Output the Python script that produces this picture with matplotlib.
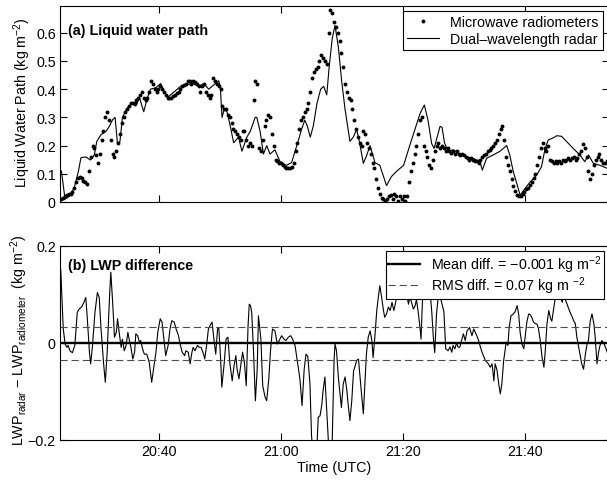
import numpy as np
import matplotlib
matplotlib.use("Agg")
import matplotlib.pyplot as plt

plt.rcParams.update({
    "font.family": ["Liberation Sans", "DejaVu Sans"],
    "font.size": 10.3,
    "mathtext.fontset": "custom",
    "mathtext.rm": "Liberation Sans",
    "mathtext.it": "Liberation Sans:italic",
    "mathtext.bf": "Liberation Sans:bold",
    "axes.linewidth": 0.8,
})

# ---- data (time in minutes after 20:00 UTC, LWP in kg m^-2) ----
radar_t = [24.0, 24.6, 25.3, 26.1, 26.8, 27.2, 28.0, 28.75, 29.4, 29.8,
           30.5, 31.3, 31.85, 32.4, 32.8, 33.2, 33.6, 34.0, 34.7, 35.5,
           36.2, 36.8, 37.5, 38.1, 38.6, 39.46, 40.27, 41.36, 42.45, 43.53,
           44.35, 45.43, 46.52, 47.34, 48.15, 48.97, 49.78, 50.05, 50.33, 50.71,
           51.14, 51.68, 52.23, 53.04, 53.59, 54.4, 54.95, 55.76, 56.03, 56.58,
           57.12, 57.66, 58.2, 59.0, 59.84, 60.92, 61.74, 62.3, 62.8, 63.4,
           63.9, 64.3, 64.8, 65.3, 65.9, 66.5, 67.0, 67.5, 67.9, 68.4,
           68.85, 69.4, 69.94, 70.49, 71.3, 71.85, 72.4, 72.84, 73.5, 74.04,
           74.59, 75.4, 76.2, 77.3, 78.1, 79.0, 80.1, 81.1, 82.0, 82.8,
           83.5, 84.1, 84.7, 85.1, 85.6, 86.07, 86.4, 86.8, 87.4, 88.25,
           89.34, 90.4, 91.5, 92.6, 93.0, 93.7, 94.8, 95.9, 97.0, 97.5,
           98.08, 98.6, 99.2, 100.0, 100.8, 101.9, 102.7, 103.3, 103.8, 104.6,
           105.2, 106.0, 106.8, 107.9, 109.0, 109.8, 110.4, 111.2, 112.3, 113.4,
           113.8]
radar_lwp = [0.11, 0.01, 0.02, 0.05, 0.11, 0.157, 0.16, 0.149, 0.167, 0.215,
             0.239, 0.25, 0.268, 0.292, 0.30, 0.205, 0.215, 0.30, 0.33, 0.35,
             0.34, 0.37, 0.32, 0.37, 0.40, 0.405, 0.42, 0.37, 0.39, 0.41,
             0.415, 0.42, 0.41, 0.42, 0.40, 0.415, 0.43, 0.41, 0.30, 0.33,
             0.32, 0.27, 0.21, 0.23, 0.18, 0.23, 0.25, 0.30, 0.30, 0.25,
             0.17, 0.20, 0.17, 0.185, 0.143, 0.13, 0.14, 0.18, 0.215, 0.26,
             0.29, 0.27, 0.23, 0.27, 0.35, 0.40, 0.41, 0.38, 0.48, 0.58,
             0.626, 0.55, 0.43, 0.33, 0.215, 0.23, 0.257, 0.215, 0.137, 0.165,
             0.20, 0.14, 0.13, 0.058, 0.09, 0.11, 0.13, 0.20, 0.26, 0.314,
             0.344, 0.29, 0.207, 0.19, 0.23, 0.268, 0.265, 0.21, 0.18, 0.185,
             0.167, 0.16, 0.155, 0.143, 0.113, 0.155, 0.167, 0.18, 0.20, 0.167,
             0.107, 0.07, 0.024, 0.048, 0.07, 0.095, 0.125, 0.19, 0.22, 0.227,
             0.235, 0.233, 0.215, 0.19, 0.167, 0.143, 0.167, 0.137, 0.13, 0.12,
             0.12]

# radiometer samples every 0.3 min starting at 20:24
radiometer_start = 24.0
radiometer_step = 0.3
radiometer_lwp = [
    0.01, 0.015, 0.02, 0.025, 0.03, 0.03, 0.035, 0.05, 0.07, 0.085,
    0.09, 0.085, 0.075, 0.07, 0.065, 0.11, 0.16, 0.20, 0.19, 0.165,
    0.14, 0.17, 0.22, 0.25, 0.30, 0.32, 0.29, 0.22, 0.17, 0.16,
    0.18, 0.21, 0.24, 0.28, 0.30, 0.32, 0.33, 0.34, 0.35, 0.35,
    0.35, 0.36, 0.37, 0.38, 0.39, 0.37, 0.36, 0.37, 0.39, 0.43,
    0.42, 0.40, 0.39, 0.40, 0.41, 0.40, 0.39, 0.38, 0.37, 0.37,
    0.37, 0.375, 0.38, 0.385, 0.39, 0.40, 0.41, 0.415, 0.42, 0.43,
    0.43, 0.42, 0.43, 0.425, 0.42, 0.41, 0.39, 0.41, 0.42, 0.39,
    0.38, 0.37, 0.38, 0.44, 0.43, 0.42, 0.41, 0.40, 0.34, 0.33,
    0.33, 0.31, 0.30, 0.28, 0.26, 0.25, 0.24, 0.23, 0.22, 0.25,
    0.25, 0.22, 0.20, 0.21, 0.20, 0.36, 0.43, 0.42, 0.19, 0.18,
    0.22, 0.27, 0.29, 0.31, 0.30, 0.24, 0.20, 0.15, 0.145, 0.14,
    0.14, 0.13, 0.125, 0.12, 0.12, 0.12, 0.125, 0.14, 0.18, 0.21,
    0.26, 0.29, 0.30, 0.32, 0.33, 0.35, 0.39, 0.44, 0.46, 0.47,
    0.48, 0.50, 0.52, 0.51, 0.50, 0.49, 0.60, 0.68, 0.67, 0.64,
    0.62, 0.60, 0.57, 0.53, 0.48, 0.42, 0.39, 0.37, 0.36, 0.33,
    0.29, 0.26, 0.23, 0.21, 0.20, 0.25, 0.24, 0.21, 0.19, 0.17,
    0.14, 0.12, 0.08, 0.05, 0.03, 0.015, 0.01, 0.005, 0.01, 0.02,
    0.025, 0.01, 0.03, 0.02, 0.005, 0.02, 0.01, 0.02, 0.005, 0.02,
    0.07, 0.11, 0.14, 0.17, 0.20, 0.24, 0.29, 0.30, 0.20, 0.18,
    0.16, 0.13, 0.12, 0.15, 0.18, 0.20, 0.21, 0.19, 0.20, 0.19,
    0.18, 0.19, 0.18, 0.175, 0.18, 0.17, 0.18, 0.17, 0.165, 0.17,
    0.165, 0.16, 0.155, 0.15, 0.155, 0.15, 0.145, 0.145, 0.14, 0.15,
    0.16, 0.165, 0.17, 0.18, 0.185, 0.19, 0.20, 0.21, 0.22, 0.24,
    0.26, 0.27, 0.22, 0.16, 0.13, 0.11, 0.08, 0.055, 0.04, 0.025,
    0.02, 0.02, 0.03, 0.035, 0.045, 0.05, 0.06, 0.07, 0.085, 0.10,
    0.13, 0.16, 0.19, 0.21, 0.19, 0.18, 0.20, 0.15, 0.145, 0.14,
    0.145, 0.14, 0.145, 0.14, 0.15, 0.145, 0.15, 0.155, 0.15, 0.155,
    0.16, 0.15, 0.155, 0.17, 0.18, 0.205, 0.19, 0.16, 0.11, 0.08,
    0.10, 0.13, 0.15, 0.16, 0.17, 0.15, 0.14, 0.14, 0.145,
]

diff_t = [23.9, 24.3, 24.6, 24.9, 25.1, 25.4, 25.8, 26.2, 26.6, 26.9,
          27.3, 27.7, 28.0, 28.25, 28.6, 28.8, 29.1, 29.5, 29.9, 30.2,
          30.5, 30.9, 31.2, 31.5, 31.9, 32.1, 32.4, 32.7, 33.0, 33.2,
          33.5, 33.8, 34.0, 34.3, 34.6, 34.9, 35.1, 35.4, 35.7, 36.0,
          36.2, 36.5, 36.8, 37.0, 37.3, 37.6, 38.0, 38.4, 38.8, 39.1,
          39.5, 39.8, 40.2, 40.5, 40.8, 41.1, 41.5, 41.8, 42.1, 42.5,
          42.8, 43.2, 43.4, 43.8, 44.2, 44.4, 44.8, 45.1, 45.4, 45.6,
          45.9, 46.3, 46.6, 46.9, 47.3, 47.5, 47.8, 48.1, 48.5, 48.7,
          49.0, 49.3, 49.6, 49.8, 50.1, 50.3, 50.7, 51.0, 51.3, 51.6,
          52.0, 52.3, 52.6, 52.8, 53.1, 53.4, 53.7, 54.0, 54.3, 54.6,
          54.8, 55.0, 55.2, 55.5, 55.8, 56.1, 56.3, 56.7, 57.0, 57.4,
          57.65, 58.0, 58.3, 58.6, 59.0, 59.4, 59.7, 60.1, 60.5, 60.8,
          61.2, 61.6, 61.9, 62.3, 62.7, 63.1, 63.45, 63.8, 64.1, 64.4,
          64.75, 65.0, 65.3, 65.8, 66.1, 66.4, 66.7, 66.9, 67.2, 67.5,
          67.8, 68.1, 68.4, 68.7, 68.85, 69.1, 69.4, 69.9, 70.2, 70.5,
          70.8, 71.0, 71.3, 71.6, 71.9, 72.1, 72.4, 72.7, 72.95, 73.2,
          73.5, 73.8, 74.0, 74.3, 74.6, 74.9, 75.1, 75.4, 75.7, 75.95,
          76.2, 76.5, 76.8, 77.0, 77.3, 77.6, 77.9, 78.2, 78.5, 78.85,
          79.2, 79.5, 79.9, 80.3, 80.6, 80.9, 81.1, 81.4, 81.7, 82.0,
          82.2, 82.5, 82.8, 82.95, 83.2, 83.6, 84.0, 84.4, 84.7, 84.97,
          85.2, 85.5, 85.8, 86.05, 86.4, 86.7, 87.0, 87.4, 87.7, 88.0,
          88.2, 88.5, 88.8, 89.0, 89.3, 89.6, 89.9, 90.2, 90.5, 90.9,
          91.3, 91.6, 92.1, 92.4, 92.7, 92.95, 93.5, 93.8, 94.0, 94.3,
          94.6, 94.9, 95.1, 95.4, 95.7, 95.95, 96.2, 96.5, 96.8, 96.9,
          97.2, 97.4, 97.7, 98.1, 98.4, 98.7, 98.96, 99.2, 99.5, 99.8,
          100.3, 100.6, 100.9, 101.1, 101.4, 101.7, 101.97, 102.2, 102.5, 102.8,
          103.1, 103.3, 103.6, 103.9, 104.2, 104.4, 104.7, 104.97, 105.3, 105.8,
          106.1, 106.3, 106.6, 106.9, 107.2, 107.4, 107.7, 107.98, 108.25, 108.5,
          108.8, 109.1, 109.3, 109.6, 109.9, 110.2, 110.4, 110.7, 110.98, 111.3,
          111.5, 111.8, 112.1, 112.3, 112.6, 112.9, 113.2, 113.5, 113.8]
diff_lwp = [0.15, 0.03, -0.002, -0.009, -0.005, -0.016, -0.02, -0.005, 0.063, 0.07,
            0.074, 0.084, 0.094, 0.05, -0.02, -0.043, -0.005, 0.063, 0.104, 0.094,
            0.029, -0.04, -0.081, -0.02, 0.098, 0.146, 0.084, 0.012, 0.022, 0.05,
            0.019, -0.009, 0.008, -0.016, -0.005, 0.022, 0.008, -0.009, -0.033, -0.019,
            0.019, 0.015, 0.001, 0.005, -0.012, -0.023, -0.023, -0.04, -0.081, -0.054,
            -0.019, 0.022, 0.05, 0.043, 0.008, -0.026, -0.005, 0.029, 0.046, 0.043,
            0.029, 0.015, 0.001, -0.019, -0.026, -0.016, -0.019, -0.043, -0.019, -0.009,
            -0.016, -0.005, -0.009, -0.009, -0.023, -0.033, -0.005, 0.029, 0.039, 0.043,
            0.008, -0.023, 0.029, 0.032, -0.033, -0.091, -0.04, 0.008, 0.012, -0.04,
            -0.078, -0.047, -0.026, -0.054, -0.074, -0.047, -0.019, -0.04, -0.088, 0.036,
            0.08, 0.077, 0.063, -0.019, -0.119, -0.054, 0.056, 0.008, -0.088, -0.112,
            -0.119, -0.074, -0.012, 0.029, 0.025, -0.002, 0.005, 0.015, 0.008, 0.005,
            0.012, 0.015, 0.008, -0.005, -0.04, -0.074, -0.129, -0.054, -0.023, -0.028,
            -0.085, -0.19, -0.24, -0.24, -0.153, -0.15, -0.126, -0.098, -0.07, -0.14,
            -0.21, -0.25, -0.2, -0.036, -0.002, -0.016, -0.07, -0.133, -0.085, -0.07,
            -0.098, -0.126, -0.16, -0.119, -0.057, -0.05, -0.036, -0.033, -0.07, -0.105,
            -0.146, -0.07, -0.023, 0.012, 0.025, 0.005, -0.03, 0.015, 0.067, 0.094,
            0.118, 0.094, 0.067, 0.053, 0.06, 0.074, 0.067, 0.084, 0.067, 0.087,
            0.111, 0.132, 0.14, 0.125, 0.10, 0.08, 0.094, 0.084, 0.07, 0.077,
            0.09, 0.063, 0.03, 0.008, 0.09, 0.112, 0.098, 0.111, 0.067, 0.012,
            -0.02, 0.06, 0.10, 0.098, 0.08, 0.065, -0.012, -0.016, -0.008, -0.019,
            -0.005, -0.012, 0.001, -0.008, -0.009, 0.005, 0.019, 0.005, 0.025, 0.032,
            0.015, 0.029, 0.015, 0.005, -0.009, -0.019, -0.036, -0.04, -0.043, -0.05,
            -0.043, -0.078, -0.043, -0.055, -0.085, -0.105, -0.085, -0.036, -0.009, 0.002,
            -0.005, 0.032, 0.056, 0.06, 0.065, 0.077, 0.06, 0.022, -0.002, -0.012,
            0.043, 0.06, 0.058, 0.053, 0.043, 0.04, 0.039, 0.03, 0.005, -0.03,
            -0.05, -0.02, 0.039, 0.067, 0.05, 0.045, 0.07, 0.094, 0.11, 0.094,
            0.084, 0.101, 0.09, 0.08, 0.07, 0.063, 0.055, 0.046, 0.04, 0.012,
            -0.009, -0.03, -0.043, -0.054, -0.023, 0.0, 0.005, 0.046, 0.06, 0.039,
            0.012, -0.043, -0.016, -0.005, 0.005, 0.0, -0.009, -0.02, -0.015]

mean_diff = -0.001
rms_diff = 0.07

time_ticks = [40, 60, 80, 100]
time_labels = ["20:40", "21:00", "21:20", "21:40"]
lwp_ticks = [0, 0.1, 0.2, 0.3, 0.4, 0.5, 0.6]
lwp_labels = ["0", "0.1", "0.2", "0.3", "0.4", "0.5", "0.6"]
diff_ticks = [-0.2, 0, 0.2]
diff_labels = ["\u22120.2", "0", "0.2"]

# ---- figure ----
W, H = 607, 481
fig = plt.figure(figsize=(W / 100, H / 100), dpi=100)
left_px, right_px = 60, 609
ax1 = fig.add_axes([left_px / W, 1 - 203 / H, (right_px - left_px) / W, 196 / H])
ax2 = fig.add_axes([left_px / W, 1 - 441 / H, (right_px - left_px) / W, 194 / H])

t_min, t_max = 23.77, 113.77

radiometer_t = radiometer_start + radiometer_step * np.arange(len(radiometer_lwp))

ax1.plot(radiometer_t, radiometer_lwp, linestyle="none", marker="o",
         markersize=2.8, markeredgewidth=0, color="black",
         label="Microwave radiometers")
ax1.plot(radar_t, radar_lwp, color="black", lw=0.8,
         label="Dual\u2013wavelength radar")
ax1.set_xlim(t_min, t_max)
ax1.set_ylim(0, 0.695)
ax1.set_yticks(lwp_ticks)
ax1.set_yticklabels(lwp_labels)
ax1.set_xticks(time_ticks)
ax1.set_xticklabels([])
ax1.set_ylabel("Liquid Water Path (kg m$^{-2}$)")
ax1.yaxis.set_label_coords(-0.05, 0.51)
ax1.text(0.015, 0.88, "(a) Liquid water path", transform=ax1.transAxes,
         fontweight="bold", ha="left", va="center")
leg1 = ax1.legend(loc="upper right", bbox_to_anchor=(0.989, 0.975),
                  borderaxespad=0, fancybox=False, edgecolor="black",
                  framealpha=1, borderpad=0.3, labelspacing=0.2,
                  handlelength=2.2, handletextpad=0.8, markerscale=1.0)
leg1.get_frame().set_linewidth(0.8)

ax2.plot(diff_t, diff_lwp, color="black", lw=0.8)
mean_line = ax2.axhline(mean_diff, color="black", lw=1.7,
                        label="Mean diff. = \u22120.001 kg m$^{-2}$")
rms_line = ax2.axhline(mean_diff + rms_diff / 2, color="0.3", lw=0.8,
                       dashes=(6.5, 3.5),
                       label="RMS diff. = 0.07 kg m $^{-2}$")
ax2.axhline(mean_diff - rms_diff / 2, color="0.3", lw=0.8, dashes=(6.5, 3.5))
ax2.set_xlim(t_min, t_max)
ax2.set_ylim(-0.2, 0.2)
ax2.set_yticks(diff_ticks)
ax2.set_yticklabels(diff_labels)
ax2.set_xticks(time_ticks)
ax2.set_xticklabels(time_labels)
ax2.set_xlabel("Time (UTC)", labelpad=1)
ax2.set_ylabel("LWP$_{\\mathrm{radar}}$ \u2212 LWP$_{\\mathrm{radiometer}}$  (kg m$^{-2}$)")
ax2.yaxis.set_label_coords(-0.055, 0.52)
ax2.text(0.015, 0.90, "(b) LWP difference", transform=ax2.transAxes,
         fontweight="bold", ha="left", va="center")
leg2 = ax2.legend(handles=[mean_line, rms_line], loc="upper right",
                  bbox_to_anchor=(0.991, 0.974), borderaxespad=0,
                  fancybox=False, edgecolor="black", framealpha=1,
                  borderpad=0.15, labelspacing=0.0, handlelength=2.2,
                  handletextpad=0.8)
leg2.get_frame().set_linewidth(0.8)

for ax in (ax1, ax2):
    ax.tick_params(direction="in", top=True, right=True, length=5,
                   width=0.8, pad=3)

fig.savefig("out.png", dpi=100)
